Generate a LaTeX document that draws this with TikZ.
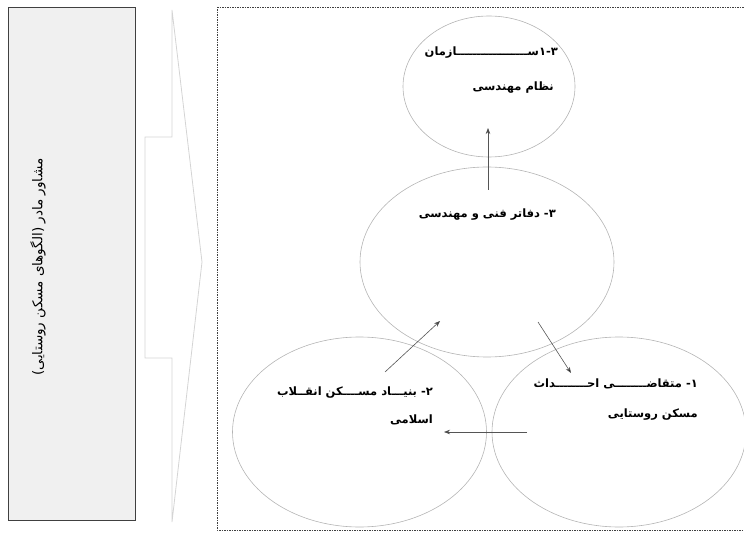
\documentclass[tikz,border=0pt]{standalone}
\usepackage{fontspec}
\usetikzlibrary{shapes.geometric,arrows.meta}
\TeXXeTstate=1
\newfontfamily\fa[Script=Arabic]{DejaVu Sans}
\definecolor{ellcol}{HTML}{B4B4B4}
\definecolor{chevcol}{HTML}{D4D4D4}
\definecolor{boxfill}{HTML}{F0F0F0}
\definecolor{boxline}{HTML}{404040}
\definecolor{arrcol}{HTML}{555555}
\tikzset{
  ell/.style={ellipse,draw=ellcol,line width=0.6pt,inner sep=0pt},
  lbl/.style={anchor=east,inner sep=0pt,font=\fa\bfseries\fontsize{11.5}{13}\selectfont},
  conn/.style={draw=arrcol,line width=0.6pt,-{Stealth[length=6pt,width=4.5pt,fill=black]}},
}
\begin{document}
\begin{tikzpicture}[x=1pt,y=-1pt]
\useasboundingbox (0,0) rectangle (744,534);
% left box
\node[draw=boxline,fill=boxfill,line width=0.8pt,minimum width=127pt,minimum height=513pt,inner sep=0pt] (mother) at (71.5,263.5) {};
\node[rotate=90,inner sep=0pt,font=\fa\fontsize{13.5}{15}\selectfont] (mothertxt) at (38,267) {\beginR مشاور مادر (الگوهای مسکن روستایی)\endR};
% chevron
\draw[chevcol,line width=0.8pt] (172,10) -- (202,262) -- (172,522) -- (172,358) -- (145,358) -- (145,137) -- (172,137) -- cycle;
% dashed frame
\draw[boxline,line width=0.6pt,dash pattern=on 1.5pt off 1pt] (217,7) -- (750,7) (217,7) -- (217,530) -- (750,530);
% ellipses
\node[ell,minimum width=172pt,minimum height=141pt] (nezam) at (489,86.5) {};
\node[ell,minimum width=254pt,minimum height=190pt] (daftar) at (487,262) {};
\node[ell,minimum width=254pt,minimum height=190pt] (bonyad) at (359.5,432) {};
\node[ell,minimum width=254pt,minimum height=190pt] (motaghazi) at (619,432) {};
% labels
\node[lbl] (t1a) at (558,53) {\beginR ٣-١ســــــــــــــــــازمان\endR};
\node[lbl] (t1b) at (554,88) {\beginR نظام مهندسی\endR};
\node[lbl] (t2) at (556,215) {\beginR ۳- دفاتر فنی و مهندسی\endR};
\node[lbl] (t3a) at (433,393) {\beginR ۲- بنیـــاد مســــکن انقــلاب\endR};
\node[lbl] (t3b) at (433,420) {\beginR اسلامی\endR};
\node[lbl] (t4a) at (698,384) {\beginR ۱- متقاضــــــــی احــــــــداث\endR};
\node[lbl] (t4b) at (698,415) {\beginR مسکن روستایی\endR};
% connector ends
\coordinate (c1s) at (488,190);
\coordinate (c1e) at (488,128);
\coordinate (c2s) at (538,322);
\coordinate (c2e) at (571,373);
\coordinate (c3s) at (527,432);
\coordinate (c3e) at (444,432);
\coordinate (c4s) at (385,372);
\coordinate (c4e) at (440,321);
\draw[conn] (c1s) -- (c1e);
\draw[conn] (c2s) -- (c2e);
\draw[conn] (c3s) -- (c3e);
\draw[conn] (c4s) -- (c4e);
\end{tikzpicture}
\end{document}
